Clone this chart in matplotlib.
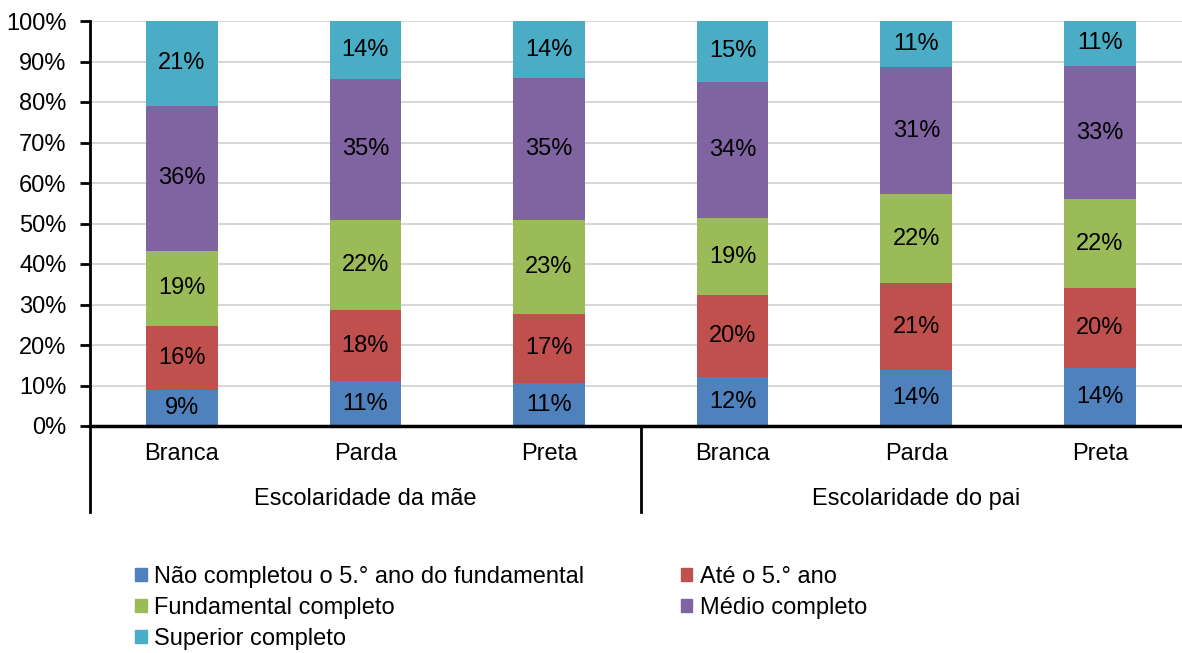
import matplotlib
matplotlib.use("Agg")
import matplotlib.pyplot as plt
from matplotlib.patches import Patch
from matplotlib.transforms import blended_transform_factory

plt.rcParams['font.family'] = ['Liberation Sans', 'DejaVu Sans']
plt.rcParams['font.size'] = 17

# data
categories = ["Branca", "Parda", "Preta", "Branca", "Parda", "Preta"]
groups = ["Escolaridade da mãe", "Escolaridade do pai"]
series_names = ["Não completou o 5.° ano do fundamental", "Até o 5.° ano",
                "Fundamental completo", "Médio completo", "Superior completo"]
nao_completou = [8.9, 11.0, 10.6, 12.0, 13.8, 14.4]
ate_5 = [15.8, 17.6, 17.1, 20.3, 21.4, 19.7]
fundamental = [18.6, 22.3, 23.2, 19.1, 22.0, 21.9]
medio = [35.8, 34.8, 35.0, 33.6, 31.4, 32.9]
superior = [20.9, 14.3, 14.1, 15.0, 11.4, 11.1]
colors = ["#4F81BD", "#C0504D", "#9BBB59", "#8064A2", "#4BACC6"]

series = [nao_completou, ate_5, fundamental, medio, superior]

fig = plt.figure(figsize=(11.82, 6.53), dpi=100)
ax = fig.add_axes([90 / 1182, 1 - 426 / 653, 1 - 90 / 1182, (426 - 21) / 653])

x = list(range(len(categories)))
bottom = [0.0] * len(categories)
for vals, name, col in zip(series, series_names, colors):
    ax.bar(x, vals, 0.39, bottom=bottom, color=col, label=name, zorder=2)
    for xi, b, v in zip(x, bottom, vals):
        ax.text(xi, b + v / 2, f"{v:.0f}%", ha="center", va="center",
                fontsize=17, color="black", zorder=3)
    bottom = [b + v for b, v in zip(bottom, vals)]

ax.set_ylim(0, 100)
ax.set_xlim(-0.5, 5.447)
ax.set_yticks(range(0, 101, 10))
ax.set_yticklabels([f"{t}%" for t in range(0, 101, 10)])
ax.yaxis.grid(True, color="#D0D0D0", linewidth=1.2, zorder=0)
ax.set_axisbelow(True)
ax.set_xticks([])
for s in ["top", "right"]:
    ax.spines[s].set_visible(False)
ax.spines["left"].set_linewidth(2)
ax.spines["bottom"].set_linewidth(2.5)
ax.spines["bottom"].set_zorder(4)
ax.tick_params(axis="y", direction="out", length=7, width=2, pad=10, labelsize=17)

trans = blended_transform_factory(ax.transData, ax.transAxes)
for xi, cat in zip(x, categories):
    ax.text(xi, -0.069, cat, transform=trans, ha="center", va="center", fontsize=17)
for gi, g in enumerate(groups):
    ax.text(gi * 3 + 1, -0.18, g, transform=trans, ha="center", va="center", fontsize=17)
for xs in [-0.5, 2.5]:
    ax.plot([xs, xs], [0, -0.212], transform=trans, color="black", linewidth=2,
            clip_on=False)

handles = [Patch(color=c) for c in colors]
order = [0, 2, 4, 1, 3]
fig.legend([handles[i] for i in order], [series_names[i] for i in order],
           loc="upper left", bbox_to_anchor=(123 / 1182, 1 - 554 / 653),
           ncol=2, frameon=False, borderpad=0, handlelength=0.5,
           handleheight=0.5, handletextpad=0.3, labelspacing=0.38,
           columnspacing=4.1, fontsize=17)

fig.savefig("out.png", dpi=100)
